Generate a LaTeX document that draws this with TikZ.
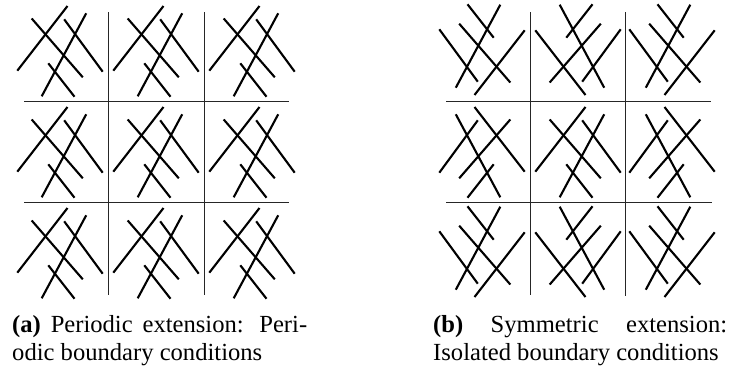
\documentclass[tikz,border=0pt]{standalone}
\usepackage{fontspec}
\setmainfont{Liberation Serif}
\tikzset{
  mline/.style={line width=2.1pt, line cap=butt},
  gline/.style={line width=0.9pt, black!85},
  capline/.style={inner sep=0pt, anchor=base west, font=\fontsize{24.6}{28.5}\selectfont}
}
\newcommand{\motiflines}{%
  \draw[mline] (5.3,70.7) -- (55.5,6);
  \draw[mline] (19.7,18.5) -- (70.8,77.3);
  \draw[mline] (52.2,19.3) -- (90.7,71.7);
  \draw[mline] (74.2,13.3) -- (29.7,96.3);
  \draw[mline] (36.3,63.3) -- (62.5,96.7);
}
\begin{document}
\begin{tikzpicture}[x=1pt,y=-1pt]
\useasboundingbox (0,0) rectangle (729,370);
% ---- left panel: periodic
\foreach \cx in {12,108,204}{
  \foreach \cy in {0,101,202}{
    \begin{scope}[shift={(\cx,\cy)}]
      \motiflines
    \end{scope}
  }
}
\draw[gline] (108,12) -- (108,295);
\draw[gline] (204,12) -- (204,295);
\draw[gline] (24,101) -- (289,101);
\draw[gline] (24,202) -- (289,202);
% ---- right panel: symmetric (mirror images about the cell borders)
\foreach \sx/\fx in {530/-1,530/1,720/-1}{
  \foreach \sy/\fy in {101/-1,101/1,303/-1}{
    \begin{scope}[shift={(\sx,\sy)}, xscale=\fx, yscale=\fy]
      \motiflines
    \end{scope}
  }
}
\draw[gline] (530.3,12) -- (530.3,295);
\draw[gline] (625.3,12) -- (625.3,296);
\draw[gline] (446,101) -- (711,101);
\draw[gline] (446,202) -- (712,202);
% ---- captions
\node[capline] (capa1) at (12,332) {\makebox[295pt][s]{\textbf{(a)} Periodic extension: Peri-}};
\node[capline] (capa2) at (12,360) {odic boundary conditions};
\node[capline] (capb1) at (433,332) {\makebox[294pt][s]{\textbf{(b)} Symmetric extension:}};
\node[capline] (capb2) at (433,360) {Isolated boundary conditions};
\end{tikzpicture}
\end{document}
